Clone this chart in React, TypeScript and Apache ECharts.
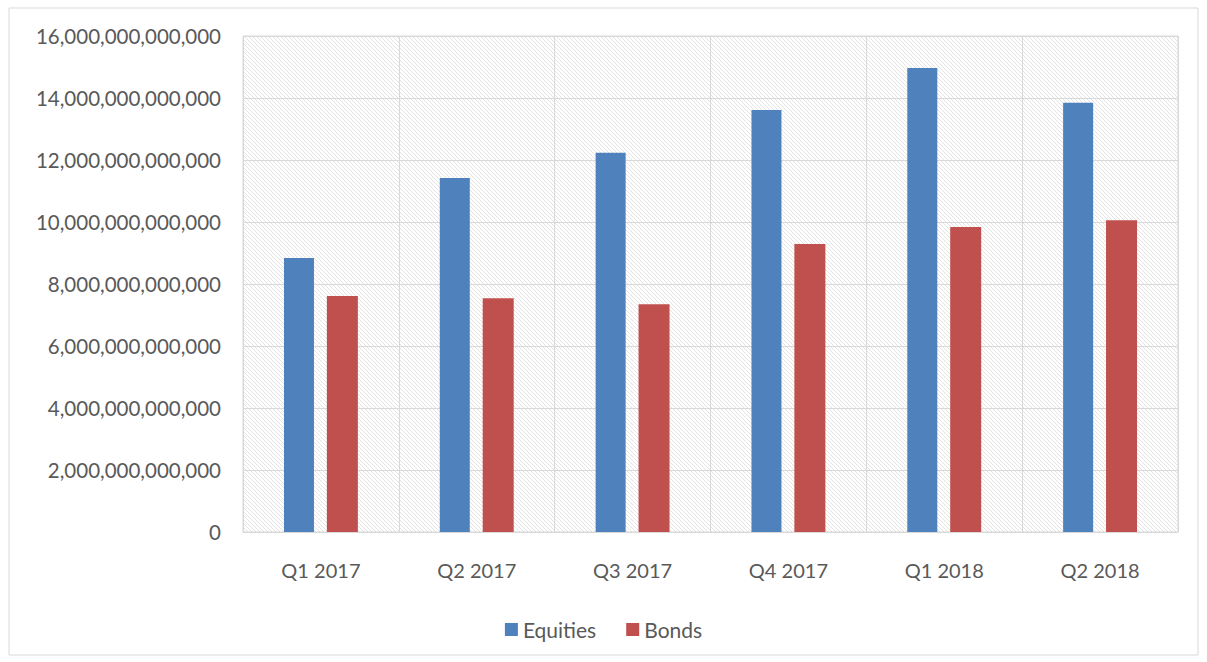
import React, { useEffect, useRef } from "react";
import * as echarts from "echarts";

const categories = ["Q1 2017", "Q2 2017", "Q3 2017", "Q4 2017", "Q1 2018", "Q2 2018"];
const equities = [8.84e12, 11.42e12, 12.23e12, 13.61e12, 14.97e12, 13.85e12];
const bonds = [7.61e12, 7.54e12, 7.35e12, 9.29e12, 9.84e12, 10.06e12];
const yTicks = { min: 0, max: 16e12, interval: 2e12 };

function makeHatch(): HTMLCanvasElement {
  const c = document.createElement("canvas");
  const s = 4;
  c.width = s;
  c.height = s;
  const ctx = c.getContext("2d")!;
  ctx.fillStyle = "#ffffff";
  ctx.fillRect(0, 0, s, s);
  ctx.strokeStyle = "#e3e3e3";
  ctx.lineWidth = 1;
  ctx.beginPath();
  ctx.moveTo(-1, -1);
  ctx.lineTo(s + 1, s + 1);
  ctx.moveTo(-1, s - 1);
  ctx.lineTo(1, s + 1);
  ctx.moveTo(s - 1, -1);
  ctx.lineTo(s + 1, 1);
  ctx.stroke();
  return c;
}

export default function App() {
  const ref = useRef<HTMLDivElement>(null);
  useEffect(() => {
    const chart = echarts.init(ref.current!, null, { renderer: "svg" });
    const font = "Lato, 'Noto Sans', sans-serif";
    chart.setOption({
      animation: false,
      backgroundColor: "#ffffff",
      textStyle: { fontFamily: font },
      graphic: [
        {
          type: "rect",
          shape: { x: 9, y: 8, width: 1189, height: 647 },
          style: { fill: "none", stroke: "#d9d9d9", lineWidth: 1 },
          silent: true,
        },
      ],
      grid: {
        left: 243,
        right: 29,
        top: 36,
        bottom: 130,
        show: true,
        backgroundColor: { image: makeHatch(), repeat: "repeat" },
        borderColor: "#d9d9d9",
        borderWidth: 1,
      },
      legend: {
        bottom: 17,
        left: "center",
        itemWidth: 13,
        itemHeight: 13,
        itemGap: 30,
        icon: "rect",
        textStyle: { fontSize: 21, color: "#595959", fontFamily: font },
        data: ["Equities", "Bonds"],
      },
      xAxis: {
        type: "category",
        data: categories,
        axisLine: { show: true, lineStyle: { color: "#d9d9d9" } },
        axisTick: { show: false },
        axisLabel: { fontSize: 20, color: "#595959", margin: 28, fontFamily: font },
        splitLine: { show: true, interval: 0, lineStyle: { color: "#d9d9d9", width: 1 } },
      },
      yAxis: {
        type: "value",
        min: yTicks.min,
        max: yTicks.max,
        interval: yTicks.interval,
        axisLine: { show: false },
        axisTick: { show: false },
        axisLabel: {
          fontSize: 20.5,
          color: "#595959",
          margin: 22,
          fontFamily: font,
          formatter: (v: number) => v.toLocaleString("en-US"),
        },
        splitLine: { show: true, lineStyle: { color: "#d9d9d9", width: 1 } },
      },
      series: [
        {
          name: "Equities",
          type: "bar",
          data: equities,
          barWidth: 30,
          barGap: "43%",
          itemStyle: { color: "#4f81bd" },
        },
        {
          name: "Bonds",
          type: "bar",
          data: bonds,
          barWidth: 31,
          itemStyle: { color: "#c0504d" },
        },
      ],
    });
    return () => chart.dispose();
  }, []);
  return (
    <div
      ref={ref}
      style={{ position: "fixed", left: 0, top: 0, width: 1207, height: 662 }}
    />
  );
}
